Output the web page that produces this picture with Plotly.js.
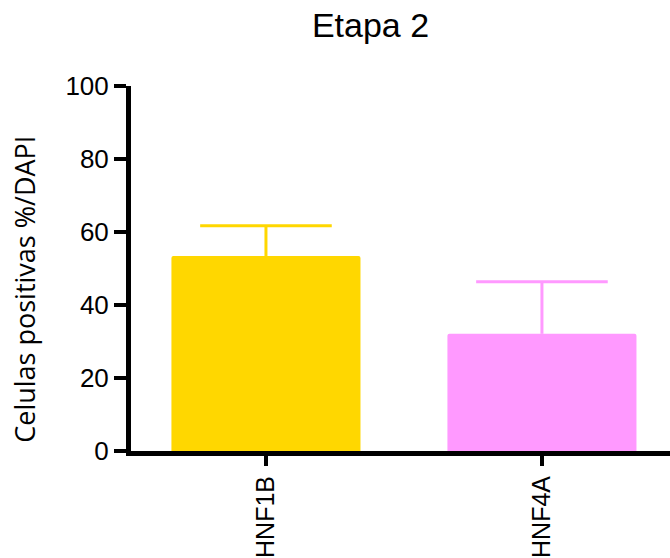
<!DOCTYPE html>
<html>
<head>
<meta charset="utf-8">
<script src="https://cdn.plot.ly/plotly-3.0.1.min.js"></script>
<style>html,body{margin:0;padding:0;background:#fff;}#chart{width:670px;height:558px;}</style>
</head>
<body>
<div id="chart"></div>
<script>
var categories = ["HNF1B", "HNF4A"];
var means = [53.4, 32.1];
var errPlus = [8.3, 14.3];
var barColors = ["#FFD700", "#FF99FF"];
var yTicks = [0, 20, 40, 60, 80, 100];

var traces = [];
categories.forEach(function (c, i) {
  traces.push({
    type: "bar",
    x: [c],
    y: [means[i]],
    width: 0.685,
    marker: { color: barColors[i], cornerradius: 2 },
    error_y: {
      type: "data", symmetric: false,
      array: [errPlus[i]], arrayminus: [0],
      color: barColors[i], thickness: 3, width: 0
    },
    hoverinfo: "none",
    showlegend: false
  });
});
categories.forEach(function (c, i) {
  traces.push({
    type: "scatter",
    mode: "markers",
    x: [c],
    y: [means[i] + errPlus[i]],
    marker: { symbol: "line-ew", size: 94, color: barColors[i], line: { color: barColors[i], width: 3 } },
    hoverinfo: "none",
    showlegend: false
  });
});

var layout = {
  width: 670, height: 558,
  margin: { l: 131, r: 0, t: 86, b: 107, pad: 0 },
  paper_bgcolor: "#fff", plot_bgcolor: "#fff",
  font: { family: "Liberation Sans, Arial, sans-serif", color: "#000" },
  title: {
    text: "Etapa 2",
    font: { size: 34, family: "Liberation Sans, Arial, sans-serif", color: "#000" },
    x: 0.553, xref: "container", xanchor: "center",
    y: 0.955, yref: "container", yanchor: "middle"
  },
  xaxis: {
    type: "category",
    range: [-0.489, 1.464],
    showline: true, linecolor: "#000", linewidth: 5,
    ticks: "outside", ticklen: 10, tickwidth: 4, tickcolor: "#000",
    tickangle: -90,
    tickfont: { size: 25, family: "Liberation Sans, Arial, sans-serif", color: "#000" },
    showgrid: false, zeroline: false, fixedrange: true
  },
  yaxis: {
    range: [0, 100],
    tickvals: yTicks,
    ticktext: yTicks.map(String),
    showline: true, linecolor: "#000", linewidth: 5,
    ticks: "outside", ticklen: 12, tickwidth: 4, tickcolor: "#000",
    tickfont: { size: 26, family: "Liberation Sans, Arial, sans-serif", color: "#000" },
    showgrid: false, zeroline: false, fixedrange: true
  },
  annotations: [{
    text: "Celulas positivas %/DAPI",
    textangle: -90,
    xref: "paper", yref: "paper",
    x: -0.197, y: 0.444,
    xanchor: "center", yanchor: "middle",
    showarrow: false,
    font: { size: 27, family: "Open Sans, sans-serif", color: "#000" }
  }]
};

Plotly.newPlot("chart", traces, layout, { displayModeBar: false, staticPlot: true });
</script>
</body>
</html>
